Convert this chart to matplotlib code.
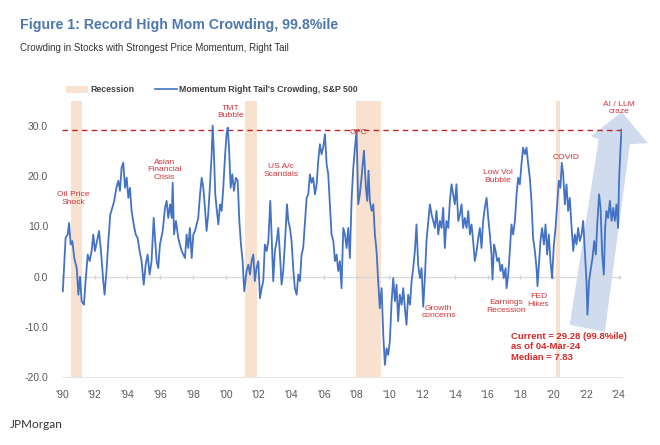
import numpy as np
import matplotlib
matplotlib.use("Agg")
import matplotlib.pyplot as plt
from matplotlib.patches import Patch, Polygon
from matplotlib.lines import Line2D

## data (year, crowding score)
years = [
    1990.05, 1990.22, 1990.35, 1990.43, 1990.53, 1990.63, 1990.75, 1990.90, 1991.00, 1991.10,
    1991.20, 1991.34, 1991.44, 1991.57, 1991.69, 1991.81, 1991.91, 1992.01, 1992.14, 1992.26,
    1992.38, 1992.52, 1992.60, 1992.73, 1992.83, 1992.95, 1993.07, 1993.19, 1993.32, 1993.44,
    1993.54, 1993.64, 1993.74, 1993.85, 1993.95, 1994.05, 1994.15, 1994.25, 1994.38, 1994.50,
    1994.62, 1994.74, 1994.86, 1994.99, 1995.11, 1995.23, 1995.35, 1995.47, 1995.60,
    1995.68, 1995.78, 1995.88, 1995.98, 1996.15, 1996.29, 1996.39, 1996.49, 1996.60, 1996.70,
    1996.76, 1996.84, 1996.96, 1997.10, 1997.20, 1997.31, 1997.41, 1997.51, 1997.61, 1997.71,
    1997.81, 1997.92, 1998.02, 1998.12, 1998.22, 1998.32, 1998.43, 1998.53, 1998.63, 1998.73,
    1998.83, 1998.93, 1999.04, 1999.14, 1999.20, 1999.28, 1999.36, 1999.44, 1999.55, 1999.65,
    1999.75, 1999.85, 1999.95, 2000.05, 2000.12, 2000.20, 2000.30, 2000.40, 2000.50, 2000.62,
    2000.73, 2000.83, 2000.93, 2001.03, 2001.13,
    2001.27, 2001.38, 2001.48, 2001.58, 2001.68, 2001.78, 2001.88, 2001.99, 2002.09, 2002.19,
    2002.29, 2002.39, 2002.50, 2002.60, 2002.72, 2002.80, 2002.90, 2003.00, 2003.11, 2003.21,
    2003.31, 2003.41, 2003.51, 2003.61, 2003.74, 2003.82, 2003.92, 2004.02, 2004.12, 2004.22,
    2004.33, 2004.43, 2004.53, 2004.63, 2004.73, 2004.84, 2004.94, 2005.04, 2005.14, 2005.24,
    2005.34, 2005.45, 2005.55, 2005.65, 2005.75, 2005.85, 2005.95, 2006.06, 2006.16, 2006.26,
    2006.36, 2006.46, 2006.57, 2006.67, 2006.77, 2006.87, 2006.97, 2007.07, 2007.18,
    2007.28, 2007.38, 2007.48, 2007.58, 2007.69, 2007.79, 2007.89, 2007.99, 2008.09, 2008.19,
    2008.29, 2008.44, 2008.56, 2008.64, 2008.72, 2008.80, 2008.91, 2009.01, 2009.11, 2009.21,
    2009.31, 2009.41, 2009.52, 2009.62, 2009.72, 2009.82, 2009.92, 2010.02, 2010.13, 2010.23,
    2010.33, 2010.43, 2010.53, 2010.63, 2010.74, 2010.84, 2010.94, 2011.04, 2011.14, 2011.25,
    2011.35, 2011.45, 2011.55, 2011.65, 2011.75, 2011.86, 2011.96, 2012.06, 2012.16, 2012.26,
    2012.37, 2012.47, 2012.57, 2012.67,
    2012.77, 2012.87, 2012.98, 2013.08, 2013.18, 2013.28, 2013.38, 2013.48, 2013.59, 2013.69,
    2013.79, 2013.89, 2013.99, 2014.09, 2014.20, 2014.30, 2014.40, 2014.50, 2014.60, 2014.71,
    2014.81, 2014.91, 2015.01, 2015.11, 2015.21, 2015.32, 2015.42, 2015.52, 2015.62, 2015.72,
    2015.82, 2015.93, 2016.03, 2016.13, 2016.23, 2016.29, 2016.39, 2016.48, 2016.58, 2016.68,
    2016.78, 2016.88, 2016.98, 2017.09, 2017.15, 2017.25, 2017.35, 2017.45, 2017.55, 2017.66,
    2017.76, 2017.86, 2017.96, 2018.06, 2018.16, 2018.27, 2018.37, 2018.47,
    2018.57, 2018.67, 2018.77, 2018.88, 2018.98, 2019.04, 2019.14, 2019.22, 2019.32, 2019.43,
    2019.53, 2019.63, 2019.73, 2019.83, 2019.93, 2020.04, 2020.14, 2020.24, 2020.34, 2020.44,
    2020.52, 2020.61, 2020.71, 2020.81, 2020.91, 2021.01, 2021.11, 2021.22, 2021.32, 2021.42,
    2021.52, 2021.62, 2021.73, 2021.83, 2021.93, 2022.03, 2022.09, 2022.19, 2022.30, 2022.40,
    2022.50, 2022.60, 2022.70, 2022.80, 2022.89, 2022.99, 2023.09, 2023.17, 2023.25, 2023.35,
    2023.46, 2023.56, 2023.66, 2023.76, 2023.86, 2023.96, 2024.02, 2024.11, 2024.17,
]
crowding = [
    -2.9, 7.7, 8.4, 10.7, 6.4, 7.1, 3.7, 1.7, -3.6, 0.0,
    -4.9, -5.6, -0.9, 4.4, 3.1, 5.1, 8.4, 5.1, 7.1, 9.1,
    5.1, -0.9, -3.6, 1.7, 7.1, 12.4, 13.7, 15.1, 17.7, 19.1,
    17.1, 21.7, 22.7, 17.7, 19.7, 15.7, 17.7, 13.1, 10.4, 8.4,
    7.7, 5.1, 3.1, -1.6, 2.4, 4.4, 0.4, 3.1, 11.7,
    7.7, 3.1, 1.7, 6.4, 9.1, 13.7, 15.1, 11.7, 14.4, 11.7,
    18.7, 8.4, 11.1, 7.7, 6.4, 5.1, 4.4, 3.7, 8.4, 5.7,
    9.7, 3.7, 8.4, 9.1, 10.4, 11.7, 16.4, 19.7, 17.7, 13.7,
    9.1, 12.4, 18.4, 24.4, 30.1, 24.4, 16.4, 13.7, 10.4, 14.4,
    13.1, 17.7, 23.7, 28.4, 29.7, 25.7, 17.7, 20.4, 17.1, 19.7,
    19.1, 11.1, 6.4, 3.1, -2.9,
    1.1, 2.4, 0.4, 3.1, 4.4, -0.9, 1.7, 3.1, -4.3, -2.3,
    -0.9, 6.4, 5.1, 7.1, 15.1, 8.4, -0.9, 5.1, 7.1, 9.7,
    4.4, -1.6, 1.1, 6.4, 14.4, 11.1, 9.7, 7.1, 1.7, -2.3,
    -3.6, 0.4, -0.9, 4.4, 5.7, 11.1, 15.7, 16.4, 20.4, 18.7,
    19.7, 16.4, 18.4, 23.1, 26.4, 24.4, 25.7, 28.4, 22.4, 20.4,
    14.4, 8.4, 7.1, 3.1, 4.4, 1.1, 3.1, -2.3, 9.7,
    8.4, 5.7, 9.7, 3.7, 15.7, 21.7, 25.7, 29.1, 14.4, 16.4,
    19.7, 25.1, 17.7, 15.1, 21.1, 15.1, 13.1, 14.4, 8.4, 5.1,
    -0.9, -6.3, -2.3, -11.6, -17.6, -14.3, -15.6, -12.9, -4.9, -0.3,
    -4.9, -1.6, -8.9, -3.6, -5.6, -2.3, -6.3, -9.6, -3.6, -5.6,
    -0.9, 1.7, 5.1, 10.4, 2.4, -0.3, 1.7, -6.0, -0.3, 7.1,
    11.1, 14.4, 12.4, 11.1,
    9.7, 13.1, 8.4, 11.1, 9.7, 13.7, 5.7, 11.1, 9.7, 15.1,
    18.4, 16.4, 14.4, 18.4, 11.1, 12.4, 14.4, 9.7, 11.7, 9.7,
    13.1, 8.4, 10.4, 7.1, 3.1, 5.1, 7.7, 9.7, 5.7, 11.1,
    13.7, 15.7, 11.7, 8.4, 4.4, -0.6, 6.4, 5.1, 3.1, 3.7,
    1.1, 2.4, -0.3, 1.7, -2.3, 0.4, 5.1, 10.4, 8.4, 11.1,
    16.4, 19.7, 18.4, 22.4, 25.7, 24.4, 25.7, 22.4,
    19.7, 15.1, 7.7, 5.1, 1.7, -1.9, 3.1, 7.1, 9.7, 6.4,
    10.4, 4.4, 8.4, 3.1, -0.3, 6.4, 9.7, 14.4, 19.1, 17.7,
    22.7, 20.4, 14.4, 18.4, 13.1, 15.7, 10.4, 5.1, 8.4, 6.4,
    9.7, 7.1, 8.4, 11.1, 5.1, -0.9, -7.6, -0.9, 1.7, 3.7,
    7.1, 4.4, 11.1, 16.4, 13.7, 4.4, 0.4, 9.7, 13.1, 11.7,
    15.1, 11.1, 13.7, 11.1, 14.4, 9.7, 19.1, 25.7, 29.28,
]
current = 29.28

# recession periods (start, end)
rec_start = [1990.55, 2001.20, 2007.97, 2020.15]
rec_end = [1991.20, 2001.92, 2009.50, 2020.42]

# event labels: text, x, y
events = [
    ("Oil Price\nShock", 1990.7, 15.6),
    ("Asian\nFinancial\nCrisis", 1996.25, 21.3),
    ("TMT\nBubble", 2000.3, 32.8),
    ("US A/c\nScandals", 2003.4, 21.2),
    ("GFC", 2008.1, 28.8),
    ("Low Vol\nBubble", 2016.6, 20.0),
    ("COVID", 2020.8, 23.8),
    ("AI / LLM\ncraze", 2024.0, 33.6),
    ("Growth\nconcerns", 2013.0, -7.0),
    ("Earnings\nRecession", 2017.1, -6.0),
    ("FED\nHikes", 2019.1, -4.8),
]

# arrow outline (year, value)
arrow_x = [2021.01, 2023.15, 2024.68, 2025.78, 2024.19, 2022.30, 2022.78]
arrow_y = [-9.6, -11.0, 26.4, 26.6, 32.8, 28.0, 27.4]

xtick_years = list(range(1990, 2025, 2))
ytick_vals = [-20, -10, 0, 10, 20, 30]

blue = "#4472c4"
red = "#d0343a"
rec_col = "#f8e1cf"
plt.rcParams["font.family"] = ["Liberation Sans", "DejaVu Sans"]

fig = plt.figure(figsize=(6.6, 4.45), dpi=100)
ax = fig.add_axes([62 / 660, 68 / 445, 560 / 660, 276 / 445])

for s, e in zip(rec_start, rec_end):
    ax.axvspan(s, e, color=rec_col, lw=0, zorder=0)

ax.add_patch(Polygon(np.column_stack([arrow_x, arrow_y]), closed=True,
                     facecolor="#c8d5ec", edgecolor="none", alpha=0.85,
                     zorder=1, clip_on=False))

ax.axhline(0, color="#d9d9d9", lw=0.9, zorder=1)
ax.plot(xtick_years, [0] * len(xtick_years), ls="none", marker="|",
        ms=3, color="#d0d0d0", zorder=1)

ax.plot(years, crowding, color=blue, lw=1.3, zorder=3)
ax.axhline(current, color="#c0282d", lw=1.0, ls=(0, (4, 3)), zorder=2)

for txt, x, y in events:
    ax.text(x, y, txt, color=red, fontsize=6.1, ha="center", va="center",
            linespacing=1.1, zorder=4, clip_on=False)

ax.text(2017.4, -11.0, "Current = 29.28 (99.8%ile)\nas of 04-Mar-24\nMedian = 7.83",
        color="#d42a2a", fontsize=6.8, fontweight="bold", ha="left", va="top",
        linespacing=1.2, zorder=4)

ax.set_xlim(1990, 2024.2)
ax.set_ylim(-20, 35)
ax.set_xticks(xtick_years)
ax.set_xticklabels([f"'{y % 100:02d}" for y in xtick_years])
ax.set_yticks(ytick_vals)
ax.set_yticklabels([f"{v:.1f}" for v in ytick_vals])
ax.tick_params(axis="both", length=0, labelsize=7.5, labelcolor="#595959")
ax.tick_params(axis="x", pad=9)
ax.tick_params(axis="y", pad=10)
for side in ["top", "right", "left"]:
    ax.spines[side].set_visible(False)
ax.spines["bottom"].set_color("#e6e6e6")

fig.text(20 / 660, 1 - 25 / 445, "Figure 1: Record High Mom Crowding, 99.8%ile",
         color="#4d78ad", fontsize=10.2, fontweight="bold", va="center")
fig.text(20 / 660, 1 - 48 / 445,
         "Crowding in Stocks with Strongest Price Momentum, Right Tail",
         color="#333333", fontsize=7.0, va="center")
fig.text(10 / 660, 1 - 425 / 445, "JPMorgan", color="#333333", fontsize=8.5,
         va="center", family=["Lato", "DejaVu Sans"])

handles = [Patch(facecolor=rec_col, edgecolor="none"),
           Line2D([], [], color=blue, lw=1.2)]
fig.legend(handles, ["Recession", "Momentum Right Tail's Crowding, S&P 500"],
           loc="center left", bbox_to_anchor=(66 / 660, 1 - 90 / 445), ncol=2,
           frameon=False, borderpad=0, borderaxespad=0, handlelength=2.5,
           handletextpad=0.25, columnspacing=2.4,
           prop={"weight": "bold", "size": 6.3}, labelcolor="#404040")

fig.savefig("out.png", dpi=100, facecolor="white")
